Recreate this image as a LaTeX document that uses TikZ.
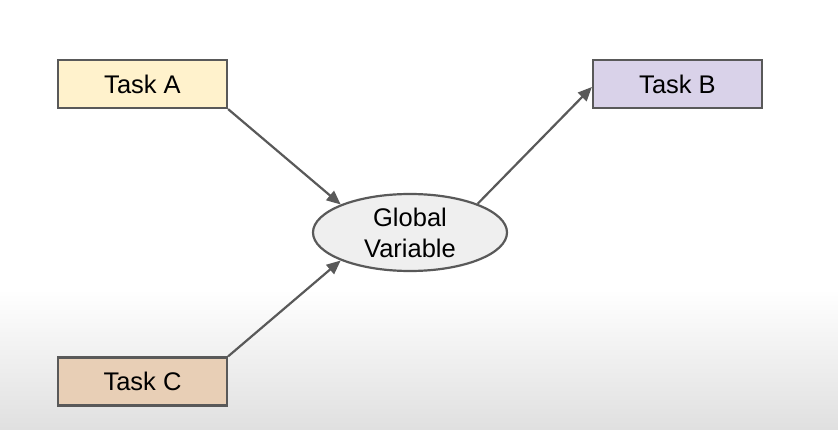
\documentclass[tikz,border=0pt]{standalone}
\usepackage{fontspec}
\setmainfont{Liberation Sans}
\usetikzlibrary{arrows.meta,shapes.geometric}
\definecolor{bordergray}{HTML}{595959}
\definecolor{fillA}{HTML}{FFF2CC}
\definecolor{fillB}{HTML}{D9D2E9}
\definecolor{fillC}{HTML}{E8CFB6}
\definecolor{fillG}{HTML}{EFEFEF}
\definecolor{bgbottom}{HTML}{E0E0E0}
\tikzset{
  x=1pt,y=1pt,
  taskbox/.style={draw=bordergray, line width=2.2pt, minimum width=169pt, minimum height=48pt,
    inner sep=0pt, font=\fontsize{25.5}{30}\selectfont},
  globalnode/.style={draw=bordergray, line width=2.2pt, ellipse, minimum width=194pt, minimum height=77pt,
    inner sep=0pt, fill=fillG, align=center, font=\fontsize{25.5}{31}\selectfont},
  conn/.style={draw=bordergray, line width=2.2pt, -{Triangle[length=14pt,width=12pt]}},
}
\begin{document}
\begin{tikzpicture}
\useasboundingbox (0,0) rectangle (838,429);
\fill[white] (0,0) rectangle (838,429);
\shade[top color=white, bottom color=bgbottom] (0,0) rectangle (838,140);
\node[taskbox, fill=fillA] (A) at (142.5,345) {Task A};
\node[taskbox, fill=fillB] (B) at (677.5,345) {Task B};
\node[taskbox, fill=fillC] (C) at (142.5,47.5) {Task C};
\node[globalnode] (G) at (410,196.5) {Global\\Variable};
\coordinate (Bin) at ([yshift=-3pt]B.west);
\draw[conn] (A.south east) -- (G.158);
\draw[conn] (C.north east) -- (G.202);
\draw[conn] (G.23) -- (Bin);
\end{tikzpicture}
\end{document}
